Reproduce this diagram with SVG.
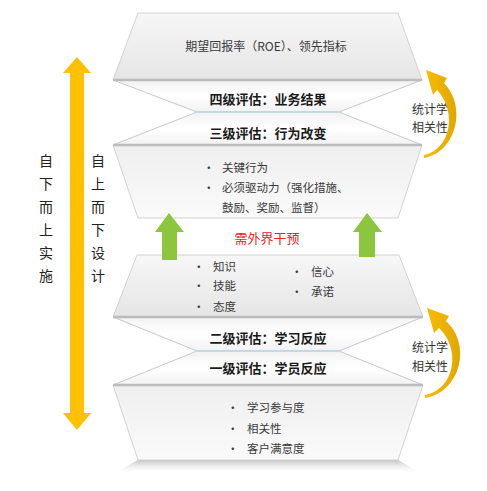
<svg xmlns="http://www.w3.org/2000/svg" width="487" height="491" viewBox="0 0 487 491">
<style>
.panel{stroke:#d2d2d2;stroke-width:1}
.bow{fill:url(#gBow);stroke:#c3c9d4;stroke-width:1}
.edge{stroke:#bcbcbc;stroke-width:2.5}
.waist{stroke:#b9dbe6;stroke-width:1.5}
.t{font-family:"Noto Sans CJK SC","Liberation Sans",sans-serif;fill:#3a3a3a}
.body{font-size:11.5px}
.title{font-size:13px;font-weight:bold;fill:#1a1a1a}
.vert{font-size:14px;writing-mode:vertical-rl;letter-spacing:9px;fill:#222}
.side{font-size:12px;fill:#333}
.red{font-size:13px;fill:#e3261f}
.green{fill:#8cc63f}
.gold{fill:#ffc000}
.curve{fill:url(#gCurve)}
</style>
<defs>
<linearGradient id="gDown" x1="0" y1="0" x2="0" y2="1"><stop offset="0" stop-color="#f7f7f7"/><stop offset="1" stop-color="#e5e5e5"/></linearGradient>
<linearGradient id="gUp" x1="0" y1="0" x2="0" y2="1"><stop offset="0" stop-color="#efefef"/><stop offset="1" stop-color="#fafafa"/></linearGradient>
<linearGradient id="gBow" x1="0" y1="0" x2="0" y2="1"><stop offset="0" stop-color="#f2f2f2"/><stop offset="0.5" stop-color="#ffffff"/><stop offset="1" stop-color="#f2f2f2"/></linearGradient>
<linearGradient id="gShadow" x1="0" y1="0" x2="0" y2="1"><stop offset="0" stop-color="#c4c4c4"/><stop offset="1" stop-color="#ffffff" stop-opacity="0"/></linearGradient>
<linearGradient id="gCurve" x1="0" y1="0" x2="1" y2="0"><stop offset="0" stop-color="#f7bd00"/><stop offset="1" stop-color="#e2a700"/></linearGradient>
</defs>

<g id="level4-roe">
<polygon class="panel" fill="url(#gDown)" points="138,13 398,13 422,80 113,80"/>
<text class="t" x="266" y="51" text-anchor="middle" font-size="12">期望回报率（ROE）、领先指标</text>
</g>

<g id="level4-label">
<polygon class="bow" points="113,80 422,80 339,112 197,112"/>
<line class="edge" x1="113" y1="80" x2="422" y2="80"/>
<text class="t title" x="268" y="104" text-anchor="middle">四级评估：业务结果</text>
</g>

<g id="level3">
<polygon class="bow" points="197,112 339,112 422,145 113,145"/>
<line class="waist" x1="197" y1="112" x2="339" y2="112"/>
<polygon class="panel" fill="url(#gUp)" points="113,145 422,145 398,218 138,218"/>
<line class="edge" x1="113" y1="145" x2="422" y2="145"/>
<text class="t title" x="268" y="138" text-anchor="middle">三级评估：行为改变</text>
<text class="t body" x="203" y="172">•</text>
<text class="t body" x="222" y="172">关键行为</text>
<text class="t body" x="203" y="192">•</text>
<text class="t body" x="222" y="192">必须驱动力（强化措施、</text>
<text class="t body" x="222" y="212">鼓励、奖励、监督）</text>
</g>

<g id="level2">
<polygon class="panel" fill="url(#gDown)" points="137,255 399,255 423,317 113,317"/>
<polygon class="bow" points="113,317 423,317 339,351 197,351"/>
<line class="edge" x1="113" y1="317" x2="423" y2="317"/>
<text class="t body" x="193" y="271">•</text>
<text class="t body" x="213" y="271">知识</text>
<text class="t body" x="193" y="290">•</text>
<text class="t body" x="213" y="290">技能</text>
<text class="t body" x="193" y="311">•</text>
<text class="t body" x="213" y="311">态度</text>
<text class="t body" x="291" y="276">•</text>
<text class="t body" x="311" y="276">信心</text>
<text class="t body" x="291" y="296">•</text>
<text class="t body" x="311" y="296">承诺</text>
<text class="t title" x="268" y="343" text-anchor="middle">二级评估：学习反应</text>
</g>

<g id="level1">
<polygon class="bow" points="197,351 339,351 423,385 113,385"/>
<line class="waist" x1="197" y1="351" x2="339" y2="351"/>
<polygon fill="url(#gShadow)" points="138,460 398,460 422,474 114,474"/>
<polygon class="panel" fill="url(#gUp)" points="113,385 423,385 398,460 138,460"/>
<line class="edge" x1="113" y1="385" x2="423" y2="385"/>
<text class="t title" x="268" y="373" text-anchor="middle">一级评估：学员反应</text>
<text class="t body" x="227" y="412">•</text>
<text class="t body" x="247" y="412">学习参与度</text>
<text class="t body" x="227" y="433">•</text>
<text class="t body" x="247" y="433">相关性</text>
<text class="t body" x="227" y="453">•</text>
<text class="t body" x="247" y="453">客户满意度</text>
</g>

<g id="intervention">
<text class="t red" x="267" y="243" text-anchor="middle">需外界干预</text>
</g>

<g id="side-labels">
<text class="t vert" x="46" y="154">自下而上实施</text>
<text class="t vert" x="98" y="154">自上而下设计</text>
<text class="t side" x="430" y="114" text-anchor="middle">统计学</text>
<text class="t side" x="430" y="132" text-anchor="middle">相关性</text>
<text class="t side" x="430" y="352" text-anchor="middle">统计学</text>
<text class="t side" x="430" y="371" text-anchor="middle">相关性</text>
</g>

<g id="connectors">
<polygon class="green" points="169,213 184,232 177,232 177,260 162,260 162,232 155,232"/>
<polygon class="green" points="367,213 382,232 375,232 375,257 359,257 359,232 353,232"/>
<polygon class="gold" points="77,57 91,73 84,73 84,413 91,413 77,430 63,413 70,413 70,73 63,73"/>
<path class="curve" d="M424,158 C455,153 468,108 444,83 L447,78 L426,70 L433,95 L437,90 C458,112 450,150 424,155 Z"/>
<path class="curve" d="M425,398 C459,393 473,346 446,321 L449,316 L427,308 L434,333 L439,328 C462,350 454,390 425,395 Z"/>
</g>
</svg>
